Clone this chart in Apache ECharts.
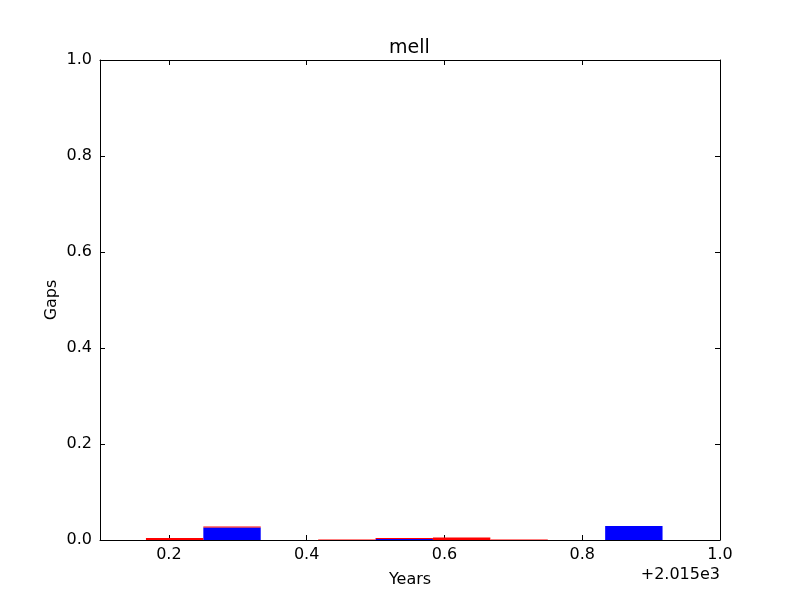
<!DOCTYPE html>
<html>
<head>
<meta charset="utf-8">
<script src="https://cdn.jsdelivr.net/npm/echarts@6/dist/echarts.min.js"></script>
<style>html,body{margin:0;padding:0;background:#fff;}#c{width:800px;height:600px;}</style>
</head>
<body>
<div id="c"></div>
<script>
// Data (x values are fractions of year 2015; offset +2.015e3)
const binStarts = [0.1667, 0.25, 0.4167, 0.5, 0.5833, 0.6667, 0.8333];
const binWidth = 0.0833;
const blueGaps = [0.000, 0.026, 0.000, 0.002, 0.000, 0.000, 0.029];
const redGaps  = [0.004, 0.002, 0.001, 0.002, 0.005, 0.001, 0.000];
const xTicks = [0.2, 0.4, 0.6, 0.8, 1.0];
const yTicks = [0.0, 0.2, 0.4, 0.6, 0.8, 1.0];
const titleText = 'mell';
const xName = 'Years';
const yName = 'Gaps';
const offsetText = '+2.015e3';

const FONT = 'DejaVu Sans';
const blueData = binStarts.map((s, i) => [s, s + binWidth, 0, blueGaps[i]]);
const redData = binStarts.map((s, i) => [s, s + binWidth, blueGaps[i], blueGaps[i] + redGaps[i]]);

function rectRenderer(color) {
  return function (params, api) {
    const p0 = api.coord([api.value(0), api.value(2)]);
    const p1 = api.coord([api.value(1), api.value(3)]);
    return {
      type: 'rect',
      shape: { x: p0[0], y: p1[1], width: p1[0] - p0[0], height: p0[1] - p1[1] },
      style: { fill: color }
    };
  };
}

const tickCommon = { inside: true, length: 5, lineStyle: { color: '#000', width: 1 } };
const lineCommon = { show: true, onZero: false, lineStyle: { color: '#000', width: 1 } };

const chart = echarts.init(document.getElementById('c'), null, { renderer: 'canvas' });
chart.setOption({
  animation: false,
  backgroundColor: '#fff',
  title: {
    text: titleText, left: 384, top: 34,
    textStyle: { fontFamily: FONT, fontSize: 19, fontWeight: 'normal', color: '#000' }
  },
  grid: { left: 100, right: 80, top: 60, bottom: 60, containLabel: false },
  xAxis: [
    {
      type: 'value', min: 0.1, max: 1.0, position: 'bottom',
      name: xName, nameLocation: 'middle', nameGap: 32,
      nameTextStyle: { fontFamily: FONT, fontSize: 16, color: '#000' },
      axisLine: lineCommon,
      axisTick: Object.assign({ customValues: xTicks }, tickCommon),
      axisLabel: { customValues: xTicks, margin: 7, fontFamily: FONT, fontSize: 16, color: '#000',
        formatter: v => v.toFixed(1) },
      splitLine: { show: false }
    },
    {
      type: 'value', min: 0.1, max: 1.0, position: 'top',
      axisLine: lineCommon,
      axisTick: Object.assign({ customValues: xTicks }, tickCommon),
      axisLabel: { show: false },
      splitLine: { show: false }
    }
  ],
  yAxis: [
    {
      type: 'value', min: 0, max: 1.0, interval: 0.2, position: 'left',
      name: yName, nameLocation: 'middle', nameGap: 40, nameMoveOverlap: false,
      nameTextStyle: { fontFamily: FONT, fontSize: 16, color: '#000' },
      axisLine: lineCommon,
      axisTick: tickCommon,
      axisLabel: { margin: 8, fontFamily: FONT, fontSize: 16, color: '#000',
        formatter: v => v.toFixed(1) },
      splitLine: { show: false }
    },
    {
      type: 'value', min: 0, max: 1.0, interval: 0.2, position: 'right',
      axisLine: lineCommon,
      axisTick: tickCommon,
      axisLabel: { show: false },
      splitLine: { show: false }
    }
  ],
  graphic: [
    {
      type: 'text', right: 80, top: 567,
      style: { text: offsetText, fontFamily: FONT, fontSize: 16, fill: '#000', textAlign: 'right' }
    }
  ],
  series: [
    {
      type: 'custom', name: 'blue', xAxisIndex: 0, yAxisIndex: 0,
      renderItem: rectRenderer('#0000ff'),
      encode: { x: [0, 1], y: [2, 3] },
      data: blueData, clip: true
    },
    {
      type: 'custom', name: 'red', xAxisIndex: 0, yAxisIndex: 0,
      renderItem: rectRenderer('#ff0000'),
      encode: { x: [0, 1], y: [2, 3] },
      data: redData, clip: true
    }
  ]
});
</script>
</body>
</html>
